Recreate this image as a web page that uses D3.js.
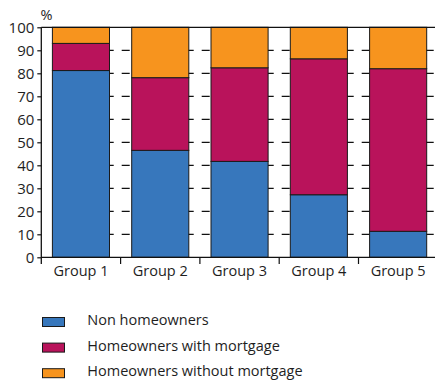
<!DOCTYPE html>
<html><head><meta charset="utf-8">
<script src="https://cdn.jsdelivr.net/npm/d3@7"></script>
<style>body{margin:0;background:#fff}text{font-family:"Open Sans",sans-serif;fill:#1e1e1e}</style>
</head><body>
<svg id="c" width="435" height="385"></svg>
<script>
const categories = ["Group 1","Group 2","Group 3","Group 4","Group 5"];
const seriesNames = ["Non homeowners","Homeowners with mortgage","Homeowners without mortgage"];
const nonHomeowners = [81.2, 46.5, 41.7, 27.2, 11.3];
const withMortgage = [11.8, 31.6, 40.7, 59.1, 70.7];
const withoutMortgage = [7.0, 21.9, 17.6, 13.7, 18.0];
const yTicks = [0,10,20,30,40,50,60,70,80,90,100];
const colors = ["#3777bc","#b9135b","#f7941e"];

const svg = d3.select("#c");
const x = d3.scaleBand().domain(categories).range([41.3, 437.8]).paddingInner(0.28).paddingOuter(0.14);
const xb = d3.scaleBand().domain(categories).range([41.3, 437.8]);
const y = d3.scaleLinear().domain([0,100]).range([257.3, 27.3]);

// dashed gridlines
svg.append("g").selectAll("line").data(yTicks.filter(d=>d>0 && d<100)).join("line")
  .attr("x1", 57.7).attr("x2", 435).attr("y1", d=>y(d)).attr("y2", d=>y(d))
  .attr("stroke","#111").attr("stroke-width",1.2).attr("stroke-dasharray","8,8");

const data = categories.map((c,i)=>({cat:c, s0:nonHomeowners[i], s1:withMortgage[i], s2:withoutMortgage[i]}));
const stack = d3.stack().keys(["s0","s1","s2"])(data);
svg.append("g").selectAll("g").data(stack).join("g")
  .attr("fill",(d,i)=>colors[i])
  .selectAll("rect").data(d=>d).join("rect")
  .attr("x", d=>x(d.data.cat)).attr("width", x.bandwidth())
  .attr("y", d=>y(Math.min(100,d[1]))).attr("height", d=>y(d[0])-y(Math.min(100,d[1])))
  .attr("stroke","#1a1a1a").attr("stroke-width",1);

// axes
const ya = svg.append("g").attr("transform","translate(41.3,0)")
  .call(d3.axisLeft(y).tickValues(yTicks).tickSize(4).tickPadding(3));
ya.select(".domain").remove();
ya.selectAll("text").style("font-size","15px").attr("dy","0.35em").attr("fill","#1e1e1e");
ya.selectAll("line").attr("stroke","#111").attr("stroke-width",1.2);
svg.append("line").attr("x1",41.3).attr("x2",41.3).attr("y1",27.3).attr("y2",264).attr("stroke","#111").attr("stroke-width",1.3);
svg.append("line").attr("x1",41.3).attr("x2",435).attr("y1",27.3).attr("y2",27.3).attr("stroke","#111").attr("stroke-width",1.3);
svg.append("line").attr("x1",41.3).attr("x2",435).attr("y1",257.3).attr("y2",257.3).attr("stroke","#111").attr("stroke-width",1.3);

// x tick marks at band boundaries
svg.append("g").selectAll("line").data(categories.slice(1)).join("line")
  .attr("x1", d=>xb(d)).attr("x2", d=>xb(d)).attr("y1",257.3).attr("y2",264)
  .attr("stroke","#111").attr("stroke-width",1.2);
svg.append("g").selectAll("text").data(categories).join("text")
  .attr("x", d=>x(d)+x.bandwidth()/2).attr("y",275.5).attr("text-anchor","middle")
  .style("font-size","14.5px").text(d=>d);

svg.append("text").attr("x",46.5).attr("y",20).attr("text-anchor","middle").style("font-size","14.5px").text("%");

// legend
const lg = svg.append("g").selectAll("g").data(seriesNames).join("g")
  .attr("transform",(d,i)=>`translate(0,${317.5 + i*25.6})`);
lg.append("rect").attr("x",42.5).attr("y",0).attr("width",22).attr("height",9)
  .attr("fill",(d,i)=>colors[i]).attr("stroke","#1a1a1a").attr("stroke-width",1);
lg.append("text").attr("x",87.3).attr("y",2.5).attr("dy","0.35em").style("font-size","14.5px").text(d=>d);
</script>
</body></html>
